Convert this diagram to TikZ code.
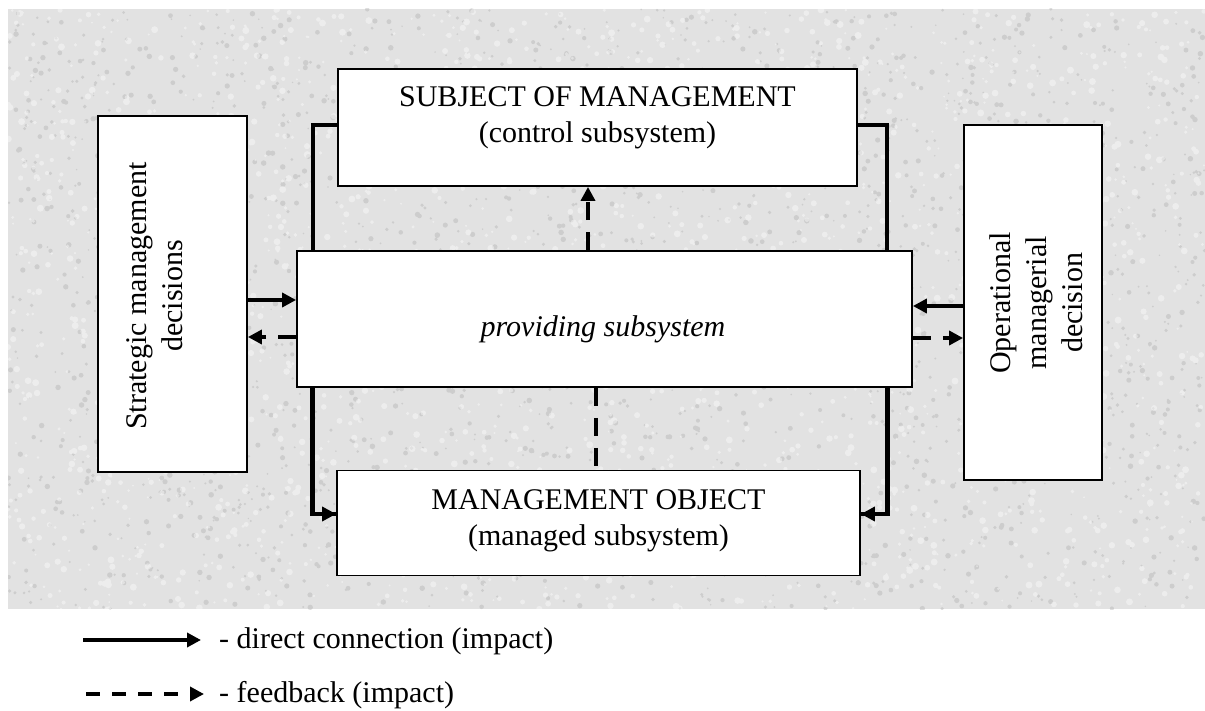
\documentclass[tikz,border=0pt]{standalone}
\usepackage{fontspec}
\setmainfont{Liberation Serif}
\usetikzlibrary{arrows.meta}

\definecolor{paper}{HTML}{E2E2E2}
\definecolor{speckdark}{HTML}{ACACAC}

\tikzset{
  box/.style={draw=black, line width=1.8pt, fill=white, inner sep=0pt},
  caption/.style={font=\fontsize{30}{36}\selectfont, align=center, inner sep=0pt},
  link/.style={line width=3.5pt},
  tip/.style={-{Triangle[length=14pt,width=14pt]}},
  fb/.style={line width=3.5pt, dash pattern=on 18pt off 12pt},
  fblegend/.style={line width=3.5pt, dash pattern=on 14pt off 12pt},
}

\begin{document}
\begin{tikzpicture}[x=1pt,y=-1pt]
  \useasboundingbox (0,0) rectangle (1205,711);

  % textured paper background
  \fill[paper] (8,9) rectangle (1205,609);
  \begin{scope}
    \clip (8,9) rectangle (1205,609);
    \pgfmathsetseed{4711}
    \fill[speckdark, opacity=0.38]
      \foreach \i in {1,...,2400}{
        ({8+1197*rnd},{9+600*rnd}) circle[radius={0.8+2*rnd}]
      };
    \fill[white, opacity=0.4]
      \foreach \i in {1,...,2200}{
        ({8+1197*rnd},{9+600*rnd}) circle[radius={1+2.5*rnd}]
      };
  \end{scope}

  % boxes
  \node[box, minimum width=149pt, minimum height=356pt] (strat) at (172.5,294) {};
  \node[box, minimum width=138pt, minimum height=355pt] (oper)  at (1033,302.5) {};
  \node[box, minimum width=519pt, minimum height=117pt] (subj)  at (597.5,127.5) {};
  \node[box, minimum width=523pt, minimum height=105pt] (obj)   at (598.5,523) {};

  % links from the control subsystem through to the managed subsystem
  \draw[link] ([yshift=2.5pt]subj.west) -| (313,260);
  \draw[link] ([yshift=2.5pt]subj.east) -| (887,260);
  \draw[link] (313,380) |- ([yshift=9pt]obj.west);
  \draw[link] (887,380) |- ([yshift=9pt]obj.east);

  \node[box, minimum width=615pt, minimum height=136pt] (prov)  at (604.5,319) {};

  \draw[link, tip] ([xshift=16pt]prov.south west) |- ([yshift=9pt]obj.west);
  \draw[link, tip] ([xshift=-25pt]prov.south east) |- ([yshift=9pt]obj.east);

  % texts
  \node[caption] (subjtext) at (597.5,118) {SUBJECT OF MANAGEMENT\\(control subsystem)};
  \node[caption] (objtext) at (598.5,521) {MANAGEMENT OBJECT\\(managed subsystem)};
  \node[caption, anchor=base] (provtext) at (603,337) {\itshape providing subsystem};
  \node[caption, rotate=90] (strattext) at (155,296) {Strategic management\\decisions};
  \node[caption, rotate=90] (opertext) at (1036,303) {Operational\\managerial\\decision};

  % decisions acting on the providing subsystem, and feedback
  \draw[link, tip] ([yshift=-6pt]strat.east) -- ([yshift=-6pt]strat.east -| prov.west);
  \draw[fb, tip] ([yshift=-43pt]strat.east -| prov.west) -- ([yshift=-43pt]strat.east);
  \draw[link, tip] ([yshift=-3.5pt]oper.west) -- ([yshift=-3.5pt]oper.west -| prov.east);
  \draw[fb, tip] ([yshift=-35.5pt]oper.west -| prov.east) -- ([yshift=-35.5pt]oper.west);

  % feedback between the subsystems
  \draw[fb, tip] ([xshift=-16.5pt]prov.north) -- ([xshift=-16.5pt]prov.north |- subj.south);
  \draw[fb] ([xshift=-8.5pt]prov.south) -- ([xshift=-8.5pt]prov.south |- obj.north);

  % legend
  \coordinate (la) at (83,640);
  \coordinate (lb) at (201,640);
  \coordinate (lc) at (86,694);
  \coordinate (ld) at (204,694);
  \draw[link, tip] (la) -- (lb);
  \draw[fblegend, tip] (lc) -- (ld);
  \node[caption, anchor=base west] (lgtext1) at (219,648) {- direct connection (impact)};
  \node[caption, anchor=base west] (lgtext2) at (219,702) {- feedback (impact)};
\end{tikzpicture}
\end{document}
